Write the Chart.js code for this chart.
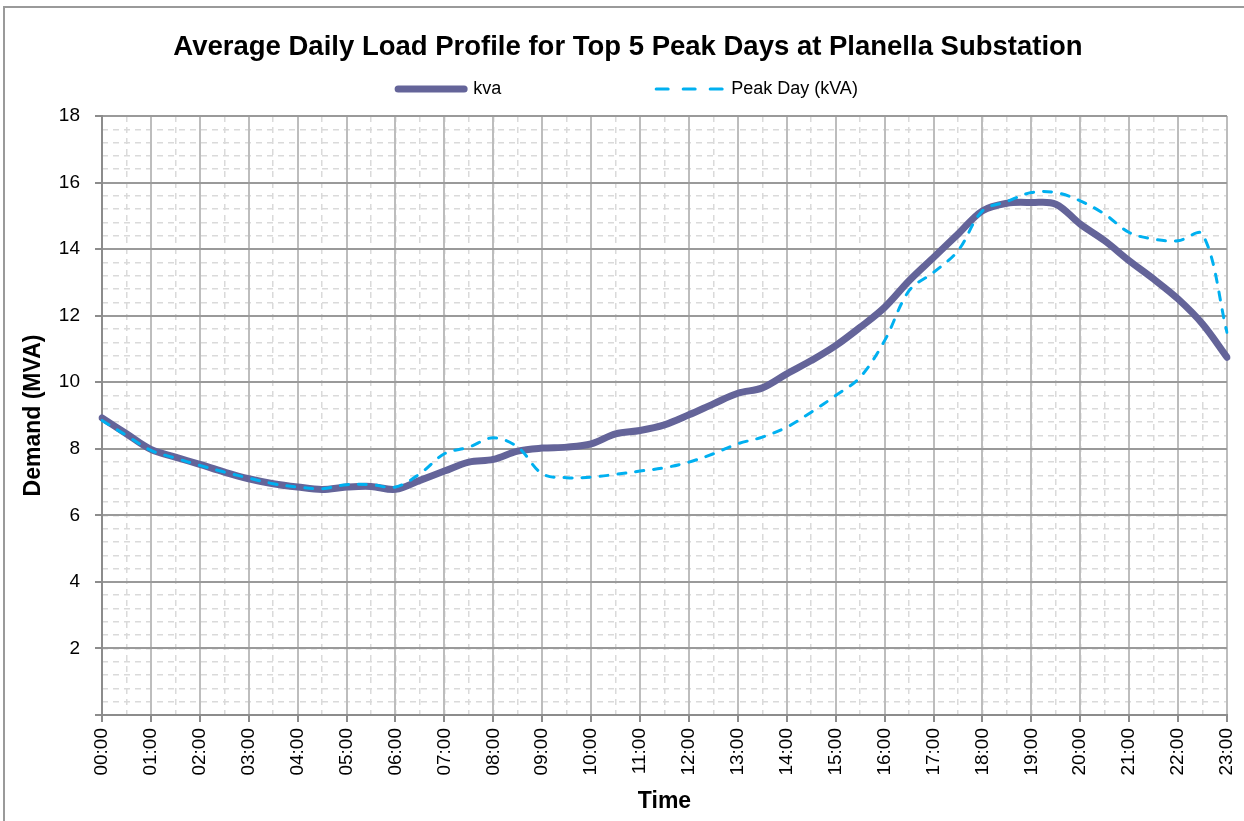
<!DOCTYPE html>
<html>
<head>
<meta charset="utf-8">
<title>Planella Substation load profile</title>
<script src="https://cdn.jsdelivr.net/npm/chart.js@4.4.1/dist/chart.umd.min.js"></script>
<style>
  html, body { margin: 0; padding: 0; background: #fff; overflow: hidden; }
  #wrap { position: relative; width: 1244px; height: 821px; overflow: hidden; }
  #frame {
    position: absolute; left: 3px; top: 6px; width: 1300px; height: 900px;
    border: 2px solid #9a9a9a; pointer-events: none;
  }
  canvas { position: absolute; left: 0; top: 0; }
</style>
</head>
<body>
<div id="wrap">
  <canvas id="loadChart" width="1260" height="821"></canvas>
  <div id="frame"></div>
</div>
<script>
// half-hour categories
const times = [
  '00:00', '00:30', '01:00', '01:30', '02:00', '02:30', '03:00', '03:30',
  '04:00', '04:30', '05:00', '05:30', '06:00', '06:30', '07:00', '07:30',
  '08:00', '08:30', '09:00', '09:30', '10:00', '10:30', '11:00', '11:30',
  '12:00', '12:30', '13:00', '13:30', '14:00', '14:30', '15:00', '15:30',
  '16:00', '16:30', '17:00', '17:30', '18:00', '18:30', '19:00', '19:30',
  '20:00', '20:30', '21:00', '21:30', '22:00', '22:30', '23:00'
];

// hour labels shown on the x axis
const hourLabels = [
  '00:00', '01:00', '02:00', '03:00', '04:00', '05:00', '06:00', '07:00',
  '08:00', '09:00', '10:00', '11:00', '12:00', '13:00', '14:00', '15:00',
  '16:00', '17:00', '18:00', '19:00', '20:00', '21:00', '22:00', '23:00'
];

// y tick labels (0 is left blank like the original)
const yTickLabels = ['', '2', '4', '6', '8', '10', '12', '14', '16', '18'];

// average of top 5 peak days (MVA)
const kva = [
  8.93, 8.45, 7.98, 7.75, 7.53, 7.30, 7.10, 6.95,
  6.85, 6.78, 6.85, 6.87, 6.78, 7.05, 7.33, 7.60,
  7.68, 7.93, 8.02, 8.05, 8.15, 8.45, 8.55, 8.72,
  9.02, 9.35, 9.67, 9.83, 10.25, 10.65, 11.10, 11.65,
  12.25, 13.05, 13.75, 14.45, 15.15, 15.38, 15.40, 15.35,
  14.75, 14.25, 13.65, 13.10, 12.50, 11.75, 10.75
];

// single peak day
const peakDay = [
  8.85, 8.40, 7.95, 7.72, 7.50, 7.30, 7.12, 6.95,
  6.85, 6.80, 6.92, 6.92, 6.85, 7.25, 7.85, 8.05,
  8.33, 8.05, 7.25, 7.13, 7.15, 7.23, 7.33, 7.43,
  7.60, 7.85, 8.15, 8.35, 8.65, 9.10, 9.60, 10.15,
  11.25, 12.75, 13.30, 13.95, 15.15, 15.43, 15.70, 15.70,
  15.45, 15.05, 14.50, 14.30, 14.25, 14.45, 11.50
];

const FONT = "'Liberation Sans', Arial, sans-serif";
const purple = '#646499';
const cyan = '#00b0f0';
const minorGrid = '#dadada';

const ctx = document.getElementById('loadChart').getContext('2d');

const loadChart = new Chart(ctx, {
  type: 'line',
  data: {
    labels: times,
    datasets: [{
      label: 'kva',
      data: kva,
      borderColor: purple,
      backgroundColor: purple,
      borderWidth: 7,
      borderCapStyle: 'round',
      borderJoinStyle: 'round',
      pointRadius: 0,
      tension: 0.35,
      order: 2
    }, {
      label: 'Peak Day (kVA)',
      data: peakDay,
      borderColor: cyan,
      backgroundColor: cyan,
      borderWidth: 3,
      borderDash: [8, 10],
      borderCapStyle: 'round',
      pointRadius: 0,
      tension: 0.35,
      order: 1
    }]
  },
  options: {
    responsive: false,
    animation: false,
    layout: { padding: { left: 4, right: 8, top: 0, bottom: 0 } },
    plugins: {
      title: {
        display: true,
        text: 'Average Daily Load Profile for Top 5 Peak Days at Planella Substation',
        color: '#000',
        font: { family: FONT, size: 27.5, weight: 'bold' },
        padding: { top: 31, bottom: 6 }
      },
      legend: {
        display: true,
        labels: {
          color: '#000',
          font: { family: FONT, size: 18 },
          usePointStyle: true,
          pointStyleWidth: 66,
          padding: 10,
          generateLabels: function() {
            return [{
              text: 'kva' + ' '.repeat(29),
              strokeStyle: purple,
              fillStyle: purple,
              lineWidth: 7,
              lineCap: 'round',
              pointStyle: 'line',
              datasetIndex: 0,
              hidden: false
            }, {
              text: 'Peak Day (kVA)',
              strokeStyle: cyan,
              fillStyle: cyan,
              lineWidth: 3,
              lineDash: [12, 15],
              lineCap: 'round',
              pointStyle: 'line',
              datasetIndex: 1,
              hidden: false
            }];
          }
        }
      },
      tooltip: { enabled: false }
    },
    scales: {
      x: {
        type: 'category',
        position: 'bottom',
        afterFit: function(s) { s.height = 106; },
        ticks: {
          autoSkip: false,
          maxRotation: 90,
          minRotation: 90,
          padding: 6,
          color: '#000',
          font: { family: FONT, size: 19 },
          callback: function(value, index) {
            return index % 2 === 0 ? hourLabels[index / 2] : '';
          }
        },
        grid: {
          z: -1,
          color: function(c) { return c.index % 2 === 0 ? '#bdbdbd' : 'rgba(0,0,0,0)'; },
          tickColor: function(c) { return c.index % 2 === 0 ? '#8c8c8c' : 'rgba(0,0,0,0)'; },
          lineWidth: 2,
          tickLength: 7
        },
        border: { display: true, color: '#8c8c8c', width: 2 },
        title: {
          display: true,
          text: 'Time',
          color: '#000',
          font: { family: FONT, size: 23, weight: 'bold' },
          padding: { top: 0, bottom: 6 }
        }
      },
      xMinor: {
        type: 'category',
        position: 'bottom',
        afterFit: function(s) { s.height = 0; },
        ticks: { display: false, autoSkip: false },
        grid: { z: -3, color: minorGrid, lineWidth: 1.5, drawTicks: false },
        border: { display: false, dash: [6, 5] }
      },
      xTop: {
        type: 'category',
        position: 'top',
        afterFit: function(s) { s.height = 8; },
        ticks: { display: false },
        grid: { display: false },
        border: { display: false }
      },
      y: {
        type: 'linear',
        position: 'left',
        min: 0,
        max: 18,
        afterFit: function(s) { s.width = 98; },
        ticks: {
          stepSize: 2,
          padding: 15,
          color: '#000',
          font: { family: FONT, size: 19 },
          callback: function(value) { return yTickLabels[Math.round(value / 2)]; }
        },
        grid: { z: -1, color: '#9a9a9a', lineWidth: 2, tickLength: 7, tickColor: '#8c8c8c' },
        border: { display: true, color: '#8c8c8c', width: 2 },
        title: {
          display: true,
          text: 'Demand (MVA)',
          color: '#000',
          font: { family: FONT, size: 23, weight: 'bold' },
          padding: { top: 16, bottom: 0 }
        }
      },
      yMinor: {
        type: 'linear',
        position: 'left',
        min: 0,
        max: 18,
        afterFit: function(s) { s.width = 0; },
        ticks: { display: false, stepSize: 0.4 },
        grid: { z: -3, color: minorGrid, lineWidth: 1.5, drawTicks: false },
        border: { display: false, dash: [6, 5] }
      },
      yRight: {
        type: 'linear',
        position: 'right',
        min: 0,
        max: 18,
        afterFit: function(s) { s.width = 25; },
        ticks: { display: false },
        grid: { display: false },
        border: { display: false }
      }
    }
  }
});
</script>
</body>
</html>
